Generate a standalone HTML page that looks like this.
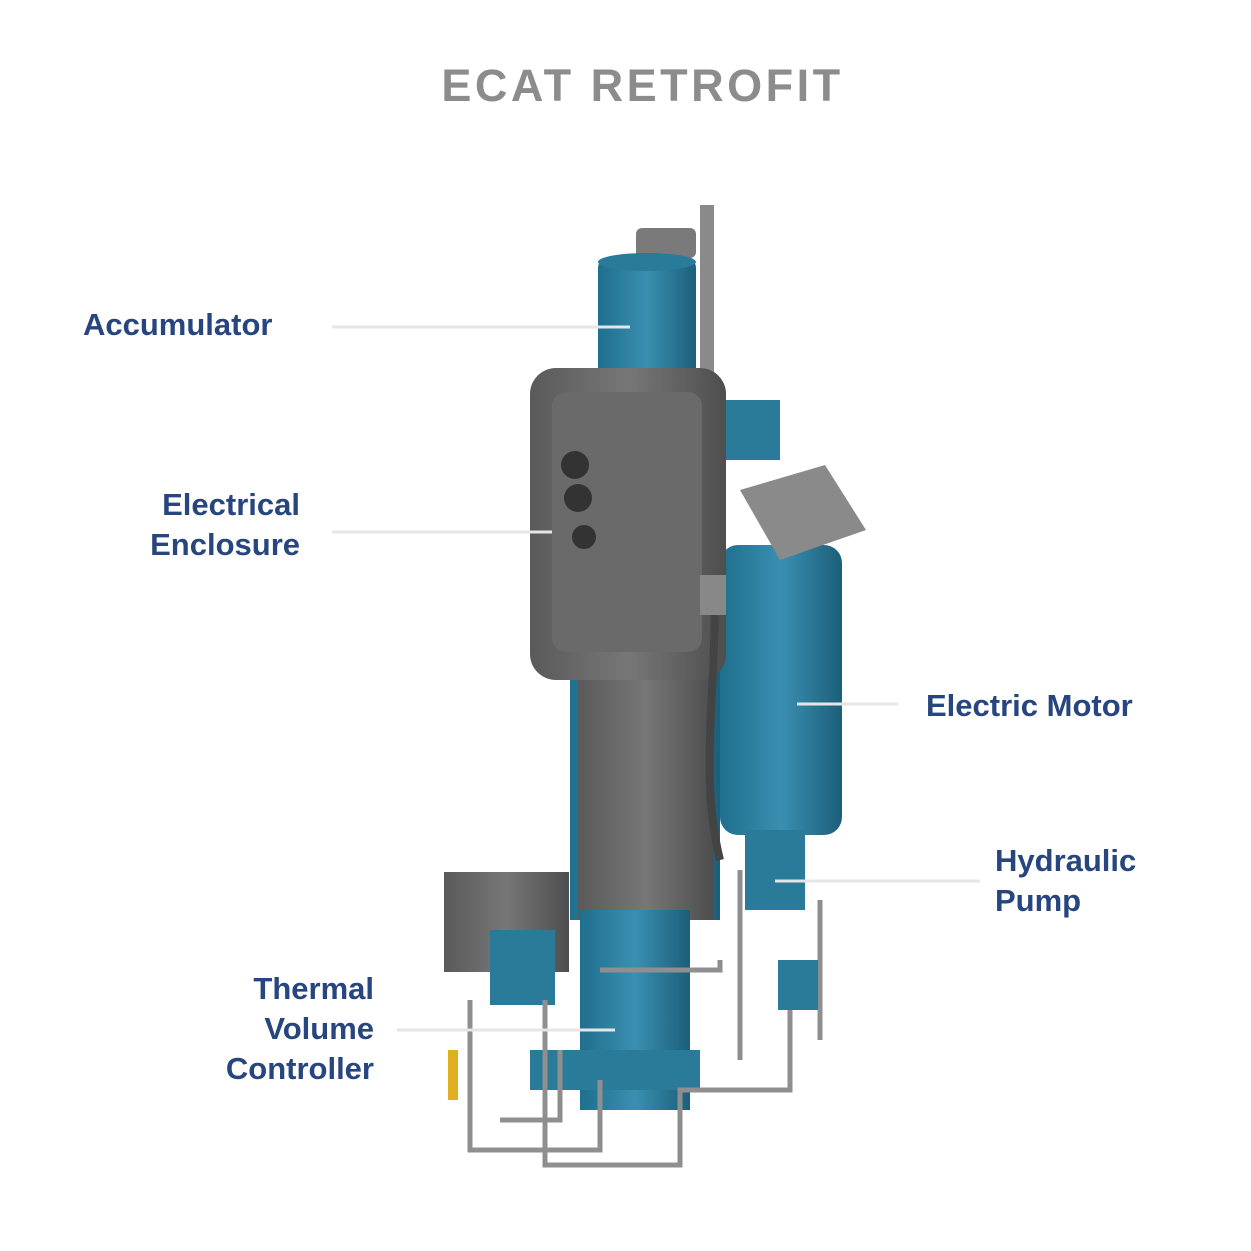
<!DOCTYPE html>
<html><head><meta charset="utf-8"><style>
html,body{margin:0;padding:0;background:#fff;}
body{width:1251px;height:1251px;position:relative;overflow:hidden;font-family:"Liberation Sans",sans-serif;}
.t{position:absolute;left:17px;width:1251px;top:60px;text-align:center;font-size:45px;font-weight:bold;color:#8c8c8c;letter-spacing:3.5px;}
.l{position:absolute;color:#27457e;font-weight:bold;font-size:31px;line-height:40px;}
</style></head><body>
<svg width="1251" height="1251" style="position:absolute;left:0;top:0">
<defs>
<linearGradient id="tl" x1="0" x2="1"><stop offset="0" stop-color="#1f6f8e"/><stop offset=".5" stop-color="#3a8fb0"/><stop offset="1" stop-color="#1c5f7a"/></linearGradient>
<linearGradient id="gr" x1="0" x2="1"><stop offset="0" stop-color="#5a5a5a"/><stop offset=".5" stop-color="#777"/><stop offset="1" stop-color="#4e4e4e"/></linearGradient>
</defs>
<rect x="700" y="205" width="14" height="180" fill="#8a8a8a"/>
<rect x="636" y="228" width="60" height="30" rx="6" fill="#7a7a7a"/>
<rect x="598" y="258" width="98" height="150" rx="10" fill="url(#tl)"/>
<ellipse cx="647" cy="262" rx="49" ry="9" fill="#2a7a9a"/>
<rect x="570" y="660" width="150" height="260" fill="url(#tl)"/>
<rect x="578" y="680" width="135" height="240" fill="url(#gr)"/>
<rect x="580" y="910" width="110" height="200" fill="url(#tl)"/>
<rect x="720" y="545" width="122" height="290" rx="18" fill="url(#tl)"/>
<rect x="745" y="830" width="60" height="80" fill="#2a7a9a"/>
<polygon points="740,490 825,465 866,530 780,560" fill="#8a8a8a"/>
<rect x="700" y="400" width="80" height="60" fill="#2a7a9a"/>
<rect x="530" y="368" width="196" height="312" rx="26" fill="url(#gr)"/>
<rect x="552" y="392" width="150" height="260" rx="14" fill="#6a6a6a"/>
<circle cx="575" cy="465" r="14" fill="#333"/><circle cx="578" cy="498" r="14" fill="#333"/><circle cx="584" cy="537" r="12" fill="#333"/>
<path d="M715 600 C715 700 700 780 720 860" stroke="#444" stroke-width="8" fill="none"/>
<rect x="700" y="575" width="26" height="40" fill="#888"/>
<rect x="444" y="872" width="125" height="100" fill="url(#gr)"/>
<rect x="490" y="930" width="65" height="75" fill="#2a7a9a"/>
<rect x="530" y="1050" width="170" height="40" fill="#2a7a9a"/>
<g stroke="#8f8f8f" stroke-width="5" fill="none">
<path d="M470 1000 V1150 H600 V1080"/>
<path d="M545 1000 V1165 H680 V1090 H790 V1000"/>
<path d="M600 970 H720 V960"/>
<path d="M740 870 V1060"/>
<path d="M820 900 V1040"/>
<path d="M500 1120 H560 V1050"/>
</g>
<rect x="778" y="960" width="40" height="50" fill="#2a7a9a"/>
<rect x="448" y="1050" width="10" height="50" fill="#e0b020"/>
<g stroke="#e6e6e6" stroke-width="3">
<line x1="332" y1="327" x2="630" y2="327"/>
<line x1="332" y1="532" x2="552" y2="532"/>
<line x1="797" y1="704" x2="898" y2="704"/>
<line x1="775" y1="881" x2="980" y2="881"/>
<line x1="397" y1="1030" x2="615" y2="1030"/>
</g>
</svg>
<div class="t">ECAT RETROFIT</div>
<div class="l" style="left:83px;top:305px">Accumulator</div>
<div class="l" style="left:150px;top:485px;text-align:right;width:150px">Electrical<br>Enclosure</div>
<div class="l" style="left:926px;top:686px">Electric Motor</div>
<div class="l" style="left:995px;top:841px">Hydraulic<br>Pump</div>
<div class="l" style="left:200px;top:969px;text-align:right;width:174px">Thermal<br>Volume<br>Controller</div>
</body></html>
